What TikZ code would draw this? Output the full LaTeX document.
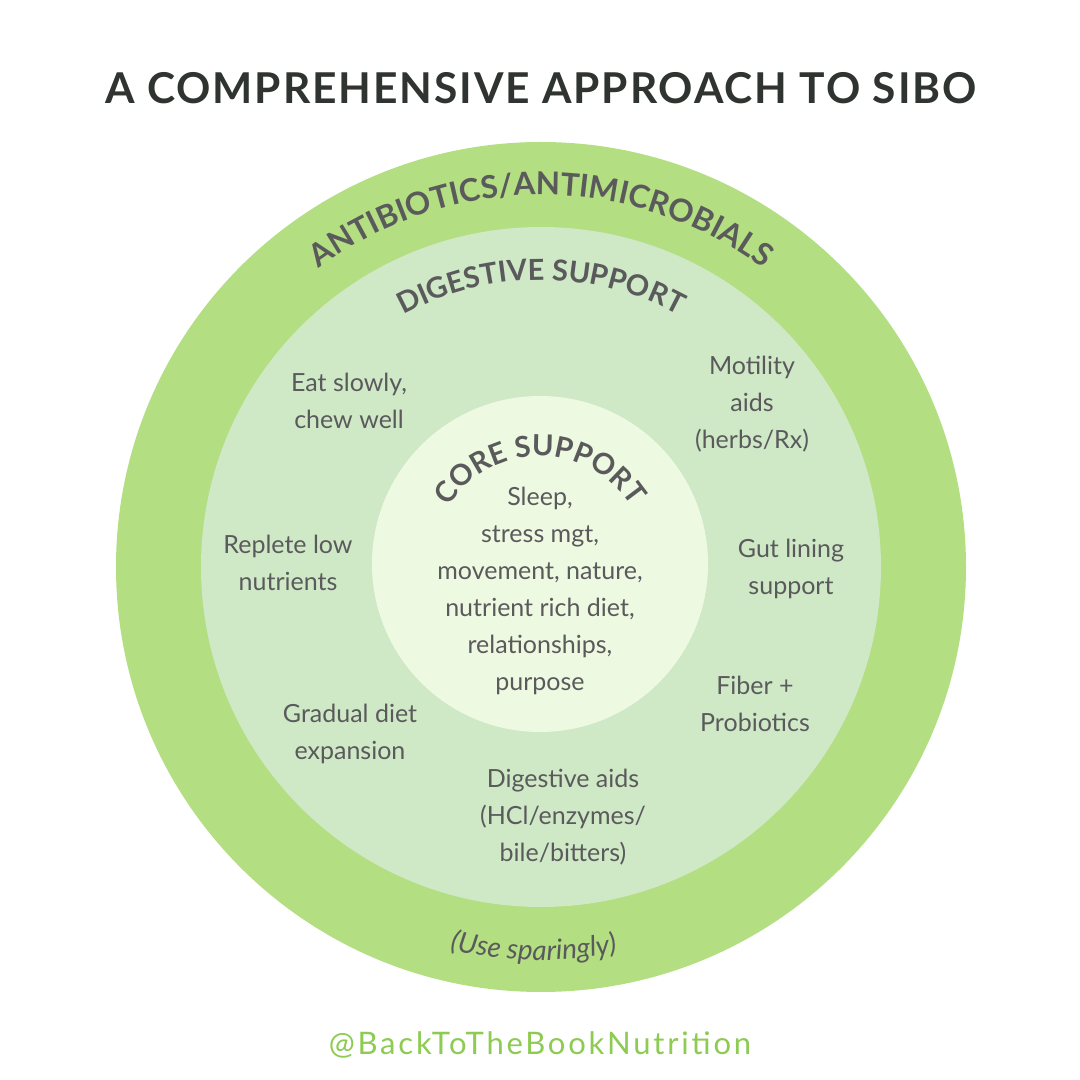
\documentclass[tikz,border=0pt]{standalone}
\usepackage{fontspec}
\setmainfont{Lato}
\usetikzlibrary{decorations.text}

\definecolor{ringouter}{HTML}{B3DE81}
\definecolor{ringmid}{HTML}{CFE8C6}
\definecolor{ringcore}{HTML}{EEF9E1}
\definecolor{inkgray}{HTML}{5A5A5C}
\definecolor{inkdark}{HTML}{2F3430}
\definecolor{handlegreen}{HTML}{8DCB52}

\begin{document}
\begin{tikzpicture}[x=1pt,y=1pt,
  item/.style={align=center,text=inkgray,inner sep=0pt,font=\fontsize{25}{37}\selectfont},
  ringtext/.style={decorate,decoration={text along path,text align=center,text color=inkgray}}]
  \useasboundingbox[fill=white] (0,0) rectangle (1080,1080);
  \coordinate (c) at (541,513);
  \coordinate (k) at (540,516);
  % rings
  \fill[ringouter] (c) circle[radius=425];
  \fill[ringmid] (c) circle[radius=340];
  \fill[ringcore] (k) circle[radius=168];
  % curved titles
  \path[ringtext,decoration={text={|\bfseries\fontsize{31.5}{31.5}\selectfont|ANTIBIOTICS/ANTIMICROBIALS}}]
    ([shift={(180:372)}]c) arc[start angle=180,end angle=0,radius=372];
  \path[ringtext,decoration={text={|\bfseries\fontsize{29}{29}\selectfont|DIGESTIVE SUPPORT}}]
    ([shift={(180:287)}]c) arc[start angle=180,end angle=0,radius=287];
  \path[ringtext,decoration={text={|\bfseries\fontsize{29}{29}\selectfont|CORE SUPPORT}}]
    ([shift={(180:108)}]k) arc[start angle=180,end angle=0,radius=108];
  \path[ringtext,decoration={text={|\itshape\fontsize{28}{28}\selectfont|(Use sparingly)}}]
    ([shift={(198.9:393)}]c) arc[start angle=198.9,end angle=338.9,radius=393];
  % title and handle
  \node[text=inkdark,font=\bfseries\fontsize{42.5}{42.5}\selectfont\addfontfeature{LetterSpace=4.5}] (title) at (541,992) {A COMPREHENSIVE APPROACH TO SIBO};
  \node[text=handlegreen,font=\fontsize{31}{31}\selectfont\addfontfeature{LetterSpace=9}] (handle) at (540,35) {@BackToTheBookNutrition};
  % core items
  \node[item] (core) at (540,489) {Sleep,\\stress mgt,\\movement, nature,\\nutrient rich diet,\\relationships,\\purpose};
  % digestive support items
  \node[item] (eat) at (349,679) {Eat slowly,\\chew well};
  \node[item] (motility) at (752,676) {Motility\\aids\\(herbs/Rx)};
  \node[item] (replete) at (288,517) {Replete low\\nutrients};
  \node[item] (gut) at (791,511) {Gut lining\\support};
  \node[item] (fiber) at (755,376) {Fiber +\\Probiotics};
  \node[item] (gradual) at (350,346) {Gradual diet\\expansion};
  \node[item] (aids) at (563,263) {Digestive aids\\(HCl/enzymes/\\bile/bitters)};
\end{tikzpicture}
\end{document}
